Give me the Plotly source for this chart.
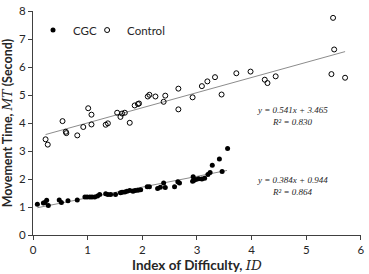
import plotly.graph_objects as go

# Control group (open circles)
control_x = [0.23, 0.27, 0.54, 0.60, 0.61, 0.81, 0.92, 1.01, 1.07, 1.07, 1.33, 1.37, 1.54, 1.60, 1.63, 1.68,
             1.77, 1.86, 1.92, 1.94, 2.10, 2.13, 2.24, 2.42, 2.39, 2.66, 2.66, 2.92, 3.09, 3.19, 3.33, 3.45,
             3.72, 3.98, 4.24, 4.29, 4.44, 5.46, 5.71, 5.51, 5.49]
control_y = [3.42, 3.23, 4.07, 3.69, 3.64, 3.56, 3.86, 4.53, 4.30, 3.95, 3.94, 3.99, 4.37, 4.22, 4.34, 4.37,
             4.01, 4.63, 4.68, 4.70, 4.95, 5.01, 4.95, 4.98, 4.76, 4.49, 5.23, 4.92, 5.32, 5.49, 5.64, 5.02,
             5.78, 5.84, 5.55, 5.43, 5.67, 5.75, 5.62, 6.63, 7.76]

# CGC group (filled circles)
cgc_x = [0.08, 0.19, 0.22, 0.25, 0.28, 0.48, 0.52, 0.64, 0.81, 0.95, 0.99, 1.04, 1.08, 1.13, 1.18, 1.22,
         1.33, 1.37, 1.42, 1.51, 1.60, 1.63, 1.68, 1.72, 1.77, 1.83, 1.87, 1.92, 1.97, 2.09, 2.13, 2.28,
         2.33, 2.39, 2.42, 2.59, 2.65, 2.68, 2.92, 2.93, 2.94, 2.98, 3.03, 3.09, 3.14, 3.20, 3.24, 3.28,
         3.41, 3.46, 3.56]
cgc_y = [1.10, 1.14, 1.16, 1.24, 1.05, 1.25, 1.16, 1.22, 1.25, 1.36, 1.36, 1.36, 1.36, 1.36, 1.39, 1.45,
         1.47, 1.45, 1.45, 1.45, 1.51, 1.53, 1.54, 1.56, 1.59, 1.56, 1.59, 1.60, 1.62, 1.72, 1.72, 1.66,
         1.71, 1.86, 1.70, 1.72, 1.90, 1.86, 1.92, 2.08, 1.95, 1.98, 2.01, 2.00, 2.03, 2.16, 2.23, 2.49,
         2.72, 2.27, 3.09]

# Linear fits (as printed on chart)
control_fit = (0.541, 3.465)
cgc_fit = (0.384, 0.944)
control_fit_range = [0.23, 5.71]
cgc_fit_range = [0.08, 3.55]

x_ticks = [0, 1, 2, 3, 4, 5, 6]
y_ticks = [0, 1, 2, 3, 4, 5, 6, 7, 8]

SANS = "Lato, 'Open Sans', sans-serif"
SERIF = "'Liberation Serif', 'DejaVu Serif', serif"
TXT = "#262626"

fig = go.Figure()

fig.add_trace(go.Scatter(
    x=control_fit_range, y=[control_fit[0] * v + control_fit[1] for v in control_fit_range],
    mode="lines", line=dict(color="#8c8c8c", width=1), showlegend=False, hoverinfo="skip"))
fig.add_trace(go.Scatter(
    x=cgc_fit_range, y=[cgc_fit[0] * v + cgc_fit[1] for v in cgc_fit_range],
    mode="lines", line=dict(color="#8c8c8c", width=1), showlegend=False, hoverinfo="skip"))

fig.add_trace(go.Scatter(
    x=cgc_x, y=cgc_y, mode="markers", name="CGC", legend="legend",
    marker=dict(symbol="circle", size=5, color="black")))
fig.add_trace(go.Scatter(
    x=control_x, y=control_y, mode="markers", name="Control", legend="legend2",
    marker=dict(symbol="circle-open", size=5, color="black", line=dict(width=1))))

ann_font = dict(family=SERIF, size=9, color=TXT)
fig.add_annotation(x=4.74, y=4.48, text="<i>y = 0.541x + 3.465</i>", showarrow=False, font=ann_font)
fig.add_annotation(x=4.74, y=4.03, text="<i>R² = 0.830</i>", showarrow=False, font=ann_font)
fig.add_annotation(x=4.74, y=1.97, text="<i>y = 0.384x + 0.944</i>", showarrow=False, font=ann_font)
fig.add_annotation(x=4.74, y=1.52, text="<i>R² = 0.864</i>", showarrow=False, font=ann_font)

leg_common = dict(orientation="h", yanchor="middle", xanchor="left",
                  bgcolor="rgba(0,0,0,0)", font=dict(family=SANS, size=11.5, color=TXT),
                  itemwidth=30)

fig.update_layout(
    width=369, height=274,
    margin=dict(l=33, r=4, t=5, b=37),
    paper_bgcolor="white", plot_bgcolor="white",
    font=dict(family=SANS, size=11, color=TXT),
    legend=dict(x=0.0, y=0.915, **leg_common),
    legend2=dict(x=0.165, y=0.915, **leg_common),
    xaxis=dict(range=[0, 6.001], tickvals=x_ticks, showgrid=False, zeroline=False,
               showline=True, linecolor="#404040", linewidth=1,
               ticks="outside", ticklen=4, tickcolor="#404040", ticklabeloverflow="allow",
               tickfont=dict(family=SANS, size=11.5, color=TXT),
               title=dict(text="<b>Index of Difficulty, </b><span style=\"font-family:'DejaVu Serif'\"><i>ID</i></span>",
                          font=dict(family=SANS, size=13.5, color=TXT), standoff=5)),
    yaxis=dict(range=[0, 8.005], tickvals=y_ticks, showgrid=False, zeroline=False,
               showline=True, linecolor="#404040", linewidth=1,
               ticks="outside", ticklen=4, tickcolor="#404040", ticklabeloverflow="allow",
               tickfont=dict(family=SANS, size=11.5, color=TXT),
               title=dict(text="<b>Movement Time, </b><span style=\"font-family:'DejaVu Serif'\"><i>MT</i></span><b> (Second)</b>",
                          font=dict(family=SANS, size=12.5, color=TXT), standoff=3)),
)

fig.write_html("out.html", config={"displayModeBar": False},
               post_script="document.body.style.margin='0';")
